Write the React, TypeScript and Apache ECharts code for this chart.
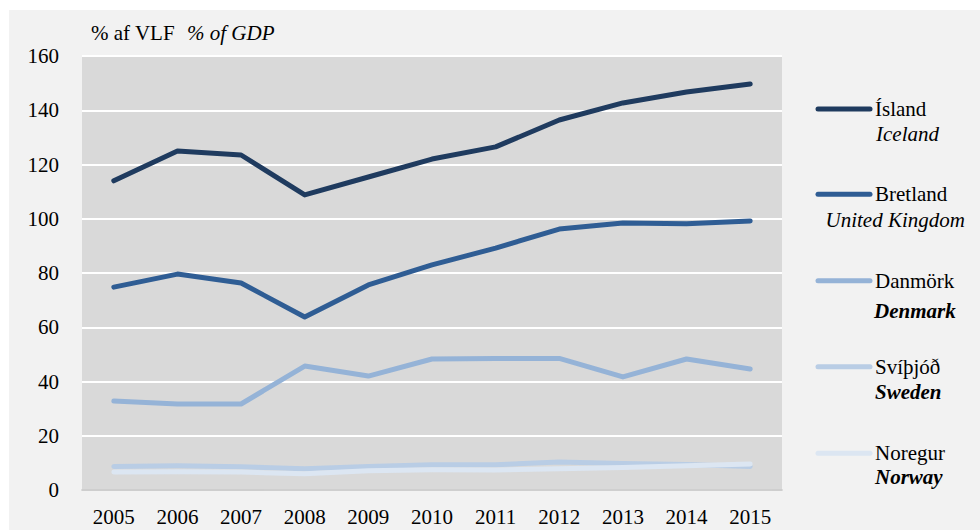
import React, { useEffect, useRef } from "react";
import * as echarts from "echarts";

const years = ["2005", "2006", "2007", "2008", "2009", "2010", "2011", "2012", "2013", "2014", "2015"];
const namesIs = ["Ísland", "Bretland", "Danmörk", "Svíþjóð", "Noregur"];
const namesEn = ["Iceland", "United Kingdom", "Denmark", "Sweden", "Norway"];
const iceland = [114, 125, 123.5, 108.8, 115.4, 122, 126.5, 136.4, 142.7, 146.7, 149.7];
const uk = [74.8, 79.6, 76.3, 63.8, 75.6, 83, 89.2, 96.2, 98.4, 98.2, 99.2];
const denmark = [32.8, 31.7, 31.7, 45.7, 42, 48.3, 48.5, 48.5, 41.7, 48.3, 44.6];
const sweden = [8.7, 8.9, 8.6, 7.8, 8.7, 9.3, 9.3, 10.3, 9.8, 9.4, 8.7];
const norway = [6.6, 6.7, 6.6, 6.0, 7.1, 7.5, 7.4, 7.8, 8.3, 8.9, 9.6];
const yTicks = { min: 0, max: 160, interval: 20 };
const titleIs = "% af VLF";
const titleEn = "% of GDP";

const seriesData = [iceland, uk, denmark, sweden, norway];
const colors = ["#1f3b5f", "#2f5d94", "#95b3d7", "#b9cde5", "#dce6f2"];
const enStyles = ["italic", "italic", "bolditalic", "bolditalic", "bolditalic"];
const FONT = "Liberation Serif";

export default function App() {
  const ref = useRef<HTMLDivElement>(null);
  useEffect(() => {
    if (!ref.current) return;
    const chart = echarts.init(ref.current, null, { renderer: "svg" });
    const legendTop = [109, 194.3, 280.7, 366.7, 453.3].map((v) => v - 10);
    const enY = [134, 220, 310.7, 392.3, 477.3].map((v) => v - 10);
    const enX = [867, 816.5, 865, 866, 866];
    const graphics: any[] = [
      {
        type: "text",
        left: 82,
        top: 12,
        style: { text: titleIs, font: `21px "${FONT}"`, fill: "#000" },
      },
      {
        type: "text",
        left: 178,
        top: 12,
        style: { text: titleEn, font: `italic 21px "${FONT}"`, fill: "#000" },
      },
    ];
    namesIs.forEach((n, i) => {
      graphics.push({
        type: "line",
        shape: { x1: 809, y1: legendTop[i], x2: 861, y2: legendTop[i] },
        style: { stroke: colors[i], lineWidth: 5, lineCap: "round" },
      });
      graphics.push({
        type: "text",
        x: 866,
        y: legendTop[i],
        style: {
          text: n,
          font: `21px "${FONT}"`,
          fill: "#000",
          verticalAlign: "middle",
          align: "left",
        },
      });
      const st = enStyles[i] === "bolditalic" ? "italic bold" : "italic";
      graphics.push({
        type: "text",
        x: enX[i],
        y: enY[i],
        style: {
          text: namesEn[i],
          font: `${st} 21px "${FONT}"`,
          fill: "#000",
          verticalAlign: "middle",
          align: "left",
        },
      });
    });

    chart.setOption({
      animation: false,
      backgroundColor: "#f2f2f2",
      textStyle: { fontFamily: FONT },
      grid: {
        left: 73,
        top: 46,
        right: 198,
        bottom: 40,
        show: true,
        backgroundColor: "#d9d9d9",
        borderWidth: 0,
      },
      xAxis: {
        type: "category",
        data: years,
        boundaryGap: true,
        axisLine: { lineStyle: { color: "#bfbfbf", width: 1.5 } },
        axisTick: { show: false },
        axisLabel: { color: "#000", fontSize: 21, fontFamily: FONT, margin: 16 },
      },
      yAxis: {
        type: "value",
        min: yTicks.min,
        max: yTicks.max,
        interval: yTicks.interval,
        axisLine: { show: false },
        axisTick: { show: false },
        splitLine: { lineStyle: { color: "#ffffff", width: 2 } },
        axisLabel: { color: "#000", fontSize: 21, fontFamily: FONT, margin: 23 },
      },
      series: seriesData.map((d, i) => ({
        name: namesIs[i],
        type: "line",
        data: d,
        symbol: "none",
        z: 2 + i,
        lineStyle: { color: colors[i], width: 5, cap: "round", join: "round" },
      })),
      graphic: graphics,
    });
    return () => chart.dispose();
  }, []);
  return (
    <div
      ref={ref}
      style={{ position: "fixed", left: 9, top: 10, width: 971, height: 520 }}
    />
  );
}
